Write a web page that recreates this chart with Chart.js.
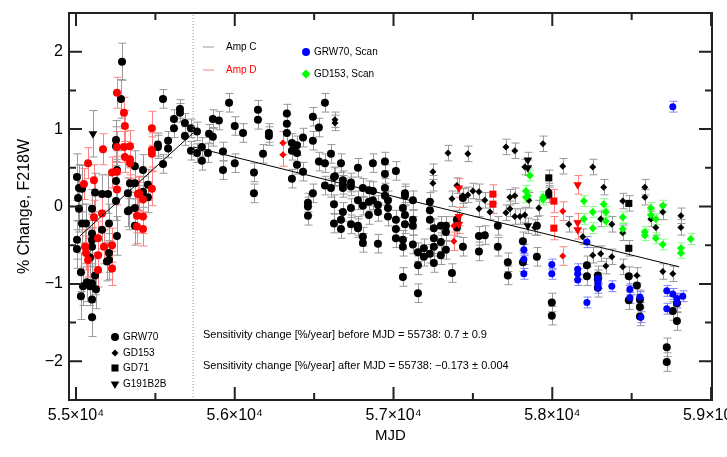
<!DOCTYPE html>
<html>
<head>
<meta charset="utf-8">
<script src="https://cdn.jsdelivr.net/npm/chart.js@4/dist/chart.umd.min.js"></script>
<style>
  html, body { margin: 0; padding: 0; background: #fff; }
</style>
</head>
<body>
<canvas id="chart" width="727" height="457"></canvas>
<script>
// [MJD, % change, error]
const grw70AmpC = [
  [55006,0.38,0.3],[55013,0.11,0.3],[55019,0.24,0.3],[55038,0.23,0.3],[55019,-0.03,0.3],
  [55006,-0.43,0.25],[55006,-0.55,0.25],[55031,-0.85,0.25],[55044,-1.03,0.25],[55031,-1.16,0.3],
  [55069,-0.98,0.25],[55101,-0.99,0.25],[55088,-1.03,0.25],[55101,-1.20,0.25],[55126,-1.07,0.25],[55101,-1.43,0.25],
  [55038,-0.22,0.25],[55063,-0.22,0.25],[55088,-0.66,0.25],[55101,-0.52,0.25],[55101,-0.35,0.25],[55101,-0.43,0.25],
  [55195,-0.71,0.25],[55208,-0.22,0.25],[55208,-0.60,0.25],[55208,-0.69,0.25],[55258,-0.38,0.25],[55120,-0.89,0.25],
  [55164,-0.30,0.25],[55371,-0.25,0.25],[55334,-0.05,0.25],
  [55101,-0.03,0.25],[55120,0.18,0.25],[55164,0.16,0.25],[55202,0.16,0.25],
  [55290,1.87,0.24],[55283,1.39,0.25],[55252,0.86,0.25],[55252,0.78,0.25],[55258,0.47,0.25],[55252,0.33,0.25],[55252,0.07,0.25],
  [55340,0.30,0.2],[55371,0.30,0.2],[55327,0.17,0.2],[55327,-0.06,0.2],[55371,-0.02,0.2],[55371,0.52,0.2],
  [55422,0.47,0.2],[55422,0.19,0.2],[55453,0.28,0.2],[55453,0.12,0.2],
  [55516,0.80,0.15],[55516,0.77,0.15],[55548,1.39,0.12],[55548,0.55,0.12],[55580,0.85,0.12],[55580,0.75,0.12],
  [55617,1.13,0.12],[55617,1.01,0.12],[55655,1.26,0.12],[55655,1.21,0.12],[55686,1.08,0.12],[55686,0.91,0.12],
  [55724,1.01,0.12],[55724,0.72,0.12],
  [55762,0.97,0.12],[55762,0.69,0.12],[55793,0.59,0.12],[55793,0.77,0.12],[55838,0.94,0.12],[55862,0.90,0.12],
  [55862,1.13,0.12],[55900,1.11,0.12],[55831,0.69,0.12],[55926,0.71,0.12],[55926,0.47,0.12],[55964,1.34,0.12],
  [56000,1.04,0.12],[56000,0.56,0.12],[56052,0.95,0.12],[56146,1.25,0.12],[56146,1.12,0.12],[56178,0.68,0.12],
  [56215,0.95,0.12],[56215,0.91,0.12],[56328,1.20,0.12],[56328,1.07,0.12],[56328,0.95,0.12],[56360,0.82,0.12],
  [56360,0.72,0.12],[56392,0.79,0.12],[56392,0.69,0.12],[56392,0.54,0.12],[56430,0.89,0.12],[56430,0.45,0.12],
  [56492,1.16,0.12],[56530,1.02,0.12],[56492,0.85,0.12],[56568,1.34,0.12],[56530,0.58,0.12],[56568,0.56,0.12],
  [56606,0.68,0.12],[56669,0.56,0.12],[56631,0.39,0.12],[56776,0.50,0.12],[56870,0.56,0.12],[56946,0.58,0.12],
  [56946,0.42,0.12],[57015,0.46,0.12],
  [56121,0.44,0.12],[56121,0.17,0.12],[56360,0.36,0.12],[56492,0.17,0.12],[56461,0.05,0.12],[56461,0.00,0.12],
  [56461,-0.12,0.12],[56568,0.27,0.12],[56606,0.24,0.12],[56625,0.38,0.12],[56625,0.03,0.12],[56625,-0.22,0.12],
  [56681,0.34,0.12],[56681,0.28,0.12],[56681,0.24,0.12],[56681,-0.07,0.12],[56669,-0.17,0.12],[56669,-0.29,0.12],
  [56732,0.31,0.12],[56732,0.26,0.12],[56732,-0.02,0.12],[56732,-0.23,0.12],[56776,0.08,0.12],[56776,-0.25,0.12],
  [56776,-0.28,0.12],[56807,0.24,0.12],[56807,0.01,0.12],[56807,-0.39,0.12],[56807,-0.47,0.12],[56845,0.21,0.12],
  [56845,0.06,0.12],[56845,-0.11,0.12],[56870,0.20,0.12],[56870,0.08,0.12],[56902,0.02,0.12],[56902,-0.07,0.12],
  [56902,-0.48,0.12],[56946,0.24,0.12],[56946,0.14,0.12],[56965,0.08,0.12],[56965,-0.02,0.12],[56965,-0.13,0.12],
  [57015,-0.17,0.12],[57015,-0.29,0.12],[57015,-0.41,0.12],[57059,-0.02,0.12],[57059,-0.43,0.12],[57059,-0.52,0.12],
  [57059,-0.91,0.12],[57072,0.17,0.12],[57072,-0.11,0.12],[57072,-0.23,0.12],
  [57072,0.14,0.12],[57122,0.08,0.12],[57122,-0.17,0.12],[57122,-0.25,0.12],[57122,-0.49,0.12],[57154,-0.59,0.12],
  [57154,-0.76,0.12],[57154,-1.12,0.12],[57191,-0.54,0.12],[57191,-0.65,0.12],[57229,0.06,0.12],[57229,-0.05,0.12],
  [57229,-0.17,0.12],[57229,-0.61,0.12],[57254,-0.28,0.12],[57254,-0.41,0.12],[57254,-0.52,0.12],[57254,-0.73,0.12],
  [57298,-0.25,0.12],[57298,-0.46,0.12],[57298,-0.63,0.12],[57330,-0.25,0.12],[57330,-0.33,0.12],[57330,-0.56,0.12],
  [57368,-0.86,0.12],[57399,-0.17,0.12],[57399,-0.27,0.12],[57437,0.11,0.12],[57437,-0.52,0.12],[57538,-0.38,0.12],
  [57538,-0.58,0.12],[57575,-0.37,0.12],[57657,-0.25,0.12],[57657,-0.52,0.12],[57720,-0.72,0.12],[57720,-0.89,0.12],
  [57815,-0.45,0.12],[57815,-0.72,0.12],[57903,-0.25,0.12],[57903,-0.65,0.12],[57997,-1.24,0.12],[57997,-1.41,0.12],
  [58218,-0.76,0.12],[58218,-0.90,0.12],[58287,-0.89,0.12],[58287,-0.94,0.12],[58287,-1.05,0.12],[58482,-0.90,0.12],
  [58482,-1.21,0.12],[58533,-1.02,0.12],[58552,-1.20,0.12],[58552,-1.30,0.12],[58552,-1.42,0.12],[58759,-1.35,0.12],
  [58721,-1.82,0.12],[58721,-2.01,0.12],[58785,-1.48,0.12],[58785,-1.25,0.12]
];
const grw70AmpD = [
  [55258,1.47,0.2],[55302,1.21,0.2],[55308,1.04,0.2],[55258,0.77,0.2],[55302,0.77,0.2],[55340,0.78,0.2],
  [55308,0.64,0.2],[55340,0.61,0.2],[55340,0.56,0.2],[55170,0.74,0.2],[55076,0.56,0.2],[55050,0.29,0.2],
  [55113,0.34,0.2],[55227,0.44,0.2],[55258,0.45,0.2],[55258,0.22,0.2],[55478,1.01,0.22],[55478,0.73,0.22],
  [55478,0.68,0.22],[55478,0.23,0.22],[55390,0.16,0.22],[55422,0.09,0.22],[55384,-0.12,0.22],[55422,-0.13,0.22],
  [55057,-0.52,0.22],[55063,-0.60,0.22],[55076,-0.69,0.22],[55139,-0.41,0.22],[55139,-0.63,0.22],[55176,-0.52,0.22],
  [55227,-0.50,0.22],[55227,-0.80,0.22],[55139,-0.82,0.22],[55384,-0.26,0.22],[55422,-0.29,0.22],[55113,-0.14,0.22],
  [55164,-0.09,0.22],[55397,0.17,0.22]
];
const gd153AmpC = [
  [56631,1.12,0.1],[56631,1.08,0.1],[57343,0.69,0.1],[57468,0.68,0.1],[57248,0.45,0.1],[57248,0.30,0.1],
  [57368,0.10,0.1],[57399,0.27,0.1],[57437,0.14,0.1],[57468,0.15,0.1],[57500,0.20,0.1],[57538,0.19,0.1],
  [57538,-0.03,0.1],[57575,0.08,0.1],[57607,-0.07,0.1],[57708,0.77,0.1],[57764,0.72,0.1],[57708,-0.08,0.1],
  [57733,-0.03,0.1],[57733,0.12,0.1],[57764,0.14,0.1],[57764,-0.13,0.1],[57796,-0.13,0.1],[57827,-0.11,0.1],
  [57827,0.51,0.1],[57852,0.08,0.1],[57941,0.81,0.1],[57915,-0.02,0.1],[57890,-0.27,0.1],[57978,0.20,0.1],
  [58066,0.52,0.1],[58104,-0.23,0.1],[58192,-0.39,0.1],[58255,0.51,0.1],[58255,-0.63,0.1],[58305,-0.16,0.1],
  [58305,-0.61,0.1],[58324,0.25,0.1],[58337,-0.77,0.1],[58375,-0.23,0.1],[58375,-0.65,0.1],[58444,0.07,0.1],
  [58444,-0.34,0.1],[58444,-0.78,0.1],[58533,-0.89,0.1],[58583,0.25,0.1],[58583,0.12,0.1],[58621,-0.16,0.1],
  [58652,-0.27,0.1],[58696,-0.07,0.1],[58696,-0.84,0.1],[58810,-0.12,0.1],[58810,-0.27,0.1],[58759,-0.87,0.1]
];
const gd153AmpD = [[56303,0.82,0.15],[56303,0.67,0.15],[57380,-0.25,0.12],[57380,-0.45,0.12],[58066,-0.06,0.12],[58066,-0.64,0.12]];
const gd71AmpC = [[57978,0.37,0.1],[57978,0.15,0.1],[58482,0.04,0.1],[58482,-0.54,0.1]];
const gd71AmpD = [[57626,0.16,0.12],[57626,0.03,0.12],[58010,0.07,0.15],[58010,-0.28,0.15]];
const g191AmpC = [[55107,0.94,0.3],[57846,0.60,0.1],[57846,0.50,0.1],[57846,-0.25,0.1]];
const g191AmpD = [[57412,0.24,0.12],[57412,-0.13,0.12],[57412,-0.23,0.12],[58160,0.28,0.12],[58160,-0.21,0.12],[58160,-0.30,0.12]];
const grw70Scan = [
  [57821,-0.56,0.07],[57821,-0.68,0.07],[57821,-0.87,0.07],[57997,-0.75,0.07],[57997,-0.87,0.07],[58160,-0.81,0.07],
  [58160,-0.87,0.07],[58160,-0.95,0.07],[58218,-0.46,0.07],[58218,-1.24,0.07],[58287,-0.93,0.07],[58287,-0.99,0.07],
  [58287,-1.05,0.07],[58375,-1.03,0.07],[58489,-1.07,0.07],[58489,-1.18,0.07],[58552,-1.17,0.07],[58558,-1.43,0.07],
  [58721,-1.09,0.07],[58721,-1.32,0.07],[58759,-1.13,0.07],[58785,-1.19,0.07],[58822,-1.16,0.07],[58785,-1.24,0.07],
  [58759,1.29,0.07]
];
const gd153Scan = [
  [57859,0.40,0.07],[57834,0.20,0.07],[57846,0.14,0.07],[57834,0.12,0.07],[57941,0.12,0.07],[57941,0.09,0.07],
  [58199,0.07,0.07],[58199,-0.16,0.07],[58255,-0.07,0.07],[58255,-0.28,0.07],[58324,0.03,0.07],[58337,-0.07,0.07],
  [58337,-0.19,0.07],[58444,-0.14,0.07],[58444,-0.29,0.07],[58583,-0.33,0.07],[58583,-0.37,0.07],[58621,-0.02,0.07],
  [58621,-0.11,0.07],[58652,-0.16,0.07],[58652,-0.41,0.07],[58696,0.01,0.07],[58696,-0.49,0.07],[58810,-0.54,0.07],
  [58810,-0.60,0.07],[58872,-0.42,0.07]
];

const BREAK_MJD = 55738;
const fitBefore = [[55025,-0.38],[55738,0.95]];
const fitAfter = [[55738,0.77],[58800,-0.78]];

const X_MAJOR = [55000, 56000, 57000, 58000, 59000];
const X_MINOR = [55500, 56500, 57500, 58500];
const Y_MAJOR = [-2, -1, 0, 1, 2];
const Y_MINOR = [-1.5, -0.5, 0.5, 1.5];

const FONT = "'Liberation Sans', Arial, sans-serif";

const toPts = arr => arr.map(([x, y, e]) => ({ x, y, e }));
const toLine = arr => arr.map(([x, y]) => ({ x, y }));

function series(data, color, errColor, style, radius, rotation = 0) {
  return {
    type: 'scatter', data: toPts(data), errColor,
    backgroundColor: color, borderColor: color, borderWidth: 0,
    pointStyle: style, pointRadius: radius, pointRotation: rotation,
  };
}
function line(data, color, dash = []) {
  return {
    type: 'line', data: toLine(data), borderColor: color, borderWidth: 1,
    borderDash: dash, pointRadius: 0, fill: false, showLine: true,
  };
}

const errorBars = {
  id: 'errorBars',
  beforeDatasetsDraw(chart) {
    const { ctx, chartArea: a, scales: { x, y } } = chart;
    ctx.save();
    ctx.beginPath();
    ctx.rect(a.left, a.top, a.right - a.left, a.bottom - a.top);
    ctx.clip();
    ctx.lineWidth = 1;
    // draw from last dataset to first so stacking follows the points
    for (let i = chart.data.datasets.length - 1; i >= 0; i--) {
      const ds = chart.data.datasets[i];
      if (!ds.errColor) continue;
      ctx.strokeStyle = ds.errColor;
      ctx.beginPath();
      for (const p of ds.data) {
        const px = Math.round(x.getPixelForValue(p.x)) + 0.5;
        const y0 = y.getPixelForValue(p.y - p.e);
        const y1 = y.getPixelForValue(p.y + p.e);
        ctx.moveTo(px, y0); ctx.lineTo(px, y1);
        ctx.moveTo(px - 4, y0); ctx.lineTo(px + 4, y0);
        ctx.moveTo(px - 4, y1); ctx.lineTo(px + 4, y1);
      }
      ctx.stroke();
    }
    ctx.restore();
  }
};

const frame = {
  id: 'frame',
  afterDraw(chart) {
    const { ctx, chartArea: a, scales: { x, y } } = chart;
    const drawPoint = Chart.helpers.drawPoint;
    ctx.save();
    ctx.strokeStyle = '#222';
    ctx.lineWidth = 2;
    ctx.strokeRect(a.left, a.top, a.right - a.left, a.bottom - a.top);
    ctx.beginPath();
    const xt = (v, len) => {
      const px = x.getPixelForValue(v);
      ctx.moveTo(px, a.bottom); ctx.lineTo(px, a.bottom - len);
      ctx.moveTo(px, a.top); ctx.lineTo(px, a.top + len);
    };
    const yt = (v, len) => {
      const py = y.getPixelForValue(v);
      ctx.moveTo(a.left, py); ctx.lineTo(a.left + len, py);
      ctx.moveTo(a.right, py); ctx.lineTo(a.right - len, py);
    };
    X_MAJOR.forEach(v => xt(v, 13));
    X_MINOR.forEach(v => xt(v, 7));
    Y_MAJOR.forEach(v => yt(v, 13));
    Y_MINOR.forEach(v => yt(v, 7));
    ctx.stroke();

    // in-plot legends
    ctx.font = '10px ' + FONT;
    ctx.textBaseline = 'middle';
    ctx.lineWidth = 1;
    ctx.strokeStyle = '#999';
    ctx.beginPath(); ctx.moveTo(203, 47); ctx.lineTo(214, 47); ctx.stroke();
    ctx.strokeStyle = '#ff8080';
    ctx.beginPath(); ctx.moveTo(203, 70); ctx.lineTo(214, 70); ctx.stroke();
    ctx.fillStyle = '#000'; ctx.fillText('Amp C', 226, 47);
    ctx.fillStyle = '#ff0000'; ctx.fillText('Amp D', 226, 70);

    const mark = (style, r, rot, color, px, py) => {
      ctx.fillStyle = color; ctx.strokeStyle = color;
      drawPoint(ctx, { pointStyle: style, radius: r, rotation: rot, borderWidth: 0 }, px, py);
    };
    mark('circle', 4, 0, '#0000ff', 306, 52);
    mark('rectRot', 4.5, 0, '#00ff00', 306, 74);
    ctx.fillStyle = '#000';
    ctx.fillText('GRW70, Scan', 314, 52);
    ctx.fillText('GD153, Scan', 314, 74);

    const keys = [['circle', 4, 0, 'GRW70', 337], ['rectRot', 3.5, 0, 'GD153', 353],
                  ['rect', 5, 0, 'GD71', 368], ['triangle', 5, 180, 'G191B2B', 384]];
    for (const [st, r, rot, txt, py] of keys) {
      mark(st, r, rot, '#000', 115, py);
      ctx.fillStyle = '#000';
      ctx.fillText(txt, 123, py);
    }
    ctx.font = '11px ' + FONT;
    ctx.fillText('Sensitivity change [%/year] before MJD = 55738: 0.7 \u00b1 0.9', 203, 335);
    ctx.fillText('Sensitivity change [%/year] after MJD = 55738: \u22120.173 \u00b1 0.004', 203, 366);
    ctx.restore();
  }
};

new Chart(document.getElementById('chart'), {
  data: {
    datasets: [
      line(fitBefore, '#000'),
      line(fitAfter, '#000'),
      line([[BREAK_MJD, -2.5], [BREAK_MJD, 2.5]], '#999', [1, 2]),
      series(grw70Scan, '#0000ff', '#8080ff', 'circle', 3.5),
      series(gd153Scan, '#00ff00', '#80ff80', 'rectRot', 4),
      series(grw70AmpD, '#ff0000', '#ff8080', 'circle', 4),
      series(gd153AmpD, '#ff0000', '#ff8080', 'rectRot', 3.5),
      series(gd71AmpD, '#ff0000', '#ff8080', 'rect', 5),
      series(g191AmpD, '#ff0000', '#ff8080', 'triangle', 5, 180),
      series(grw70AmpC, '#000', '#999', 'circle', 4),
      series(gd153AmpC, '#000', '#999', 'rectRot', 3.5),
      series(gd71AmpC, '#000', '#999', 'rect', 5),
      series(g191AmpC, '#000', '#999', 'triangle', 5, 180),
    ]
  },
  options: {
    responsive: false,
    animation: false,
    layout: { padding: { top: 13, right: 15, left: 0, bottom: 0 } },
    plugins: { legend: { display: false }, tooltip: { enabled: false } },
    scales: {
      x: {
        type: 'linear', min: 54956, max: 59006,
        grid: { display: false, drawTicks: false }, border: { display: false },
        afterBuildTicks: s => { s.ticks = X_MAJOR.map(v => ({ value: v })); },
        afterFit: s => { s.height = 57; s.paddingLeft = 0; s.paddingRight = 0; },
        ticks: {
          padding: 6, color: '#000', font: { family: FONT, size: 16 }, maxRotation: 0,
          callback: v => (v / 1e4).toFixed(1) + '\u00d710\u2074'
        },
        title: { display: true, text: 'MJD', color: '#000', font: { family: FONT, size: 15 }, padding: { top: 0, bottom: 12 } }
      },
      y: {
        type: 'linear', min: -2.5, max: 2.5,
        grid: { display: false, drawTicks: false }, border: { display: false },
        afterBuildTicks: s => { s.ticks = Y_MAJOR.map(v => ({ value: v })); },
        afterFit: s => { s.width = 69; s.paddingTop = 0; s.paddingBottom = 0; },
        ticks: {
          padding: 6, color: '#000', font: { family: FONT, size: 16 },
          callback: v => (v < 0 ? '\u2212' + Math.abs(v) : String(v))
        },
        title: { display: true, text: '% Change, F218W', color: '#000', font: { family: FONT, size: 16 }, padding: { top: 15, bottom: 0 } }
      }
    }
  },
  plugins: [errorBars, frame]
});
</script>
</body>
</html>
